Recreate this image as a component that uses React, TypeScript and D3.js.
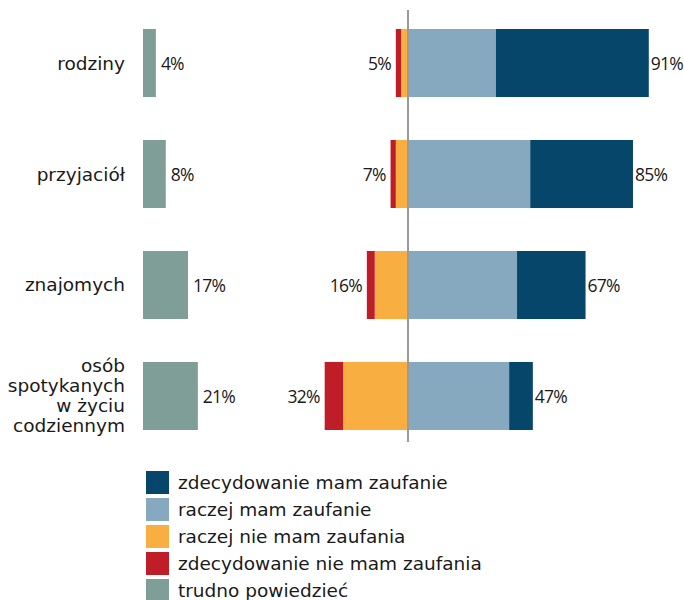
import React from "react";
import * as d3 from "d3";

const categories = ["rodziny", "przyjaciół", "znajomych", "osób spotykanych w życiu codziennym"];
const categoryLines = [["rodziny"], ["przyjaciół"], ["znajomych"], ["osób", "spotykanych", "w życiu", "codziennym"]];
const zdecydowanieMam = [58, 39, 26, 9];
const raczejMam = [33, 46, 41, 38];
const raczejNieMam = [3, 5, 13, 25];
const zdecydowanieNieMam = [2, 2, 3, 7];
const trudno = [4, 8, 17, 21];
const legendLabels = [
  "zdecydowanie mam zaufanie",
  "raczej mam zaufanie",
  "raczej nie mam zaufania",
  "zdecydowanie nie mam zaufania",
  "trudno powiedzieć",
];
const colors = ["#07466B", "#87A9BF", "#F8AE40", "#BF1E28", "#7E9E97"];

const W = 684;
const H = 600;
const CENTER = 409;
const LEFT0 = 143;
const FONT = "'DejaVu Sans', sans-serif";
const PCT_FONT = "'Open Sans', 'DejaVu Sans', sans-serif";
const TXT = "#1a1a1a";

export default function App() {
  const y = d3
    .scaleBand<string>()
    .domain(categories)
    .range([7.5, 451.5])
    .paddingInner(0.387)
    .paddingOuter(0.1937);
  const x = d3.scaleLinear().domain([0, 100]).range([0, 263.5]);
  const xl = d3.scaleLinear().domain([0, 100]).range([3, 250]);
  const bw = y.bandwidth();
  const pctStyle = { letterSpacing: "-0.8px", fontFamily: PCT_FONT };

  return (
    <svg
      width={W}
      height={H}
      style={{ position: "absolute", left: 0, top: 0, background: "#fff" }}
      fontFamily={FONT}
    >
      {categories.map((c, i) => {
        const y0 = y(c)!;
        const cy = y0 + bw / 2;
        const lines = categoryLines[i];
        const lh = 20;
        const pos1 = raczejMam[i];
        const pos2 = zdecydowanieMam[i];
        const neg1 = raczejNieMam[i];
        const neg2 = zdecydowanieNieMam[i];
        const posTotal = pos1 + pos2;
        const negTotal = neg1 + neg2;
        return (
          <g key={c}>
            {lines.map((l, j) => (
              <text
                key={j}
                x={125}
                y={cy + (j - (lines.length - 1) / 2) * lh}
                textAnchor="end"
                dominantBaseline="central"
                fontSize={18.5}
                fill={TXT}
              >
                {l}
              </text>
            ))}
            <rect x={LEFT0} y={y0} width={xl(trudno[i])} height={bw} fill={colors[4]} />
            <text
              x={LEFT0 + xl(trudno[i]) + 5}
              y={cy}
              dominantBaseline="central"
              fontSize={17.5}
              fill={TXT}
              style={pctStyle}
            >
              {trudno[i]}%
            </text>
            <rect x={CENTER} y={y0} width={x(pos1)} height={bw} fill={colors[1]} />
            <rect x={CENTER + x(pos1)} y={y0} width={x(pos2)} height={bw} fill={colors[0]} />
            <rect x={CENTER - x(neg1)} y={y0} width={x(neg1)} height={bw} fill={colors[2]} />
            <rect x={CENTER - x(negTotal)} y={y0} width={x(neg2)} height={bw} fill={colors[3]} />
            <text
              x={CENTER + x(posTotal) + 2}
              y={cy}
              dominantBaseline="central"
              fontSize={17.5}
              fill={TXT}
              style={pctStyle}
            >
              {posTotal}%
            </text>
            <text
              x={CENTER - x(negTotal) - 5}
              y={cy}
              textAnchor="end"
              dominantBaseline="central"
              fontSize={17.5}
              fill={TXT}
              style={pctStyle}
            >
              {negTotal}%
            </text>
          </g>
        );
      })}
      <line x1={CENTER - 1} x2={CENTER - 1} y1={10} y2={442} stroke="#9a9a9a" strokeWidth={2} />
      {legendLabels.map((l, i) => (
        <g key={l} transform={`translate(146, ${471 + i * 27})`}>
          <rect width={23} height={23} fill={colors[i]} />
          <text x={32} y={11.5} dominantBaseline="central" fontSize={18.5} fill={TXT}>
            {l}
          </text>
        </g>
      ))}
    </svg>
  );
}
